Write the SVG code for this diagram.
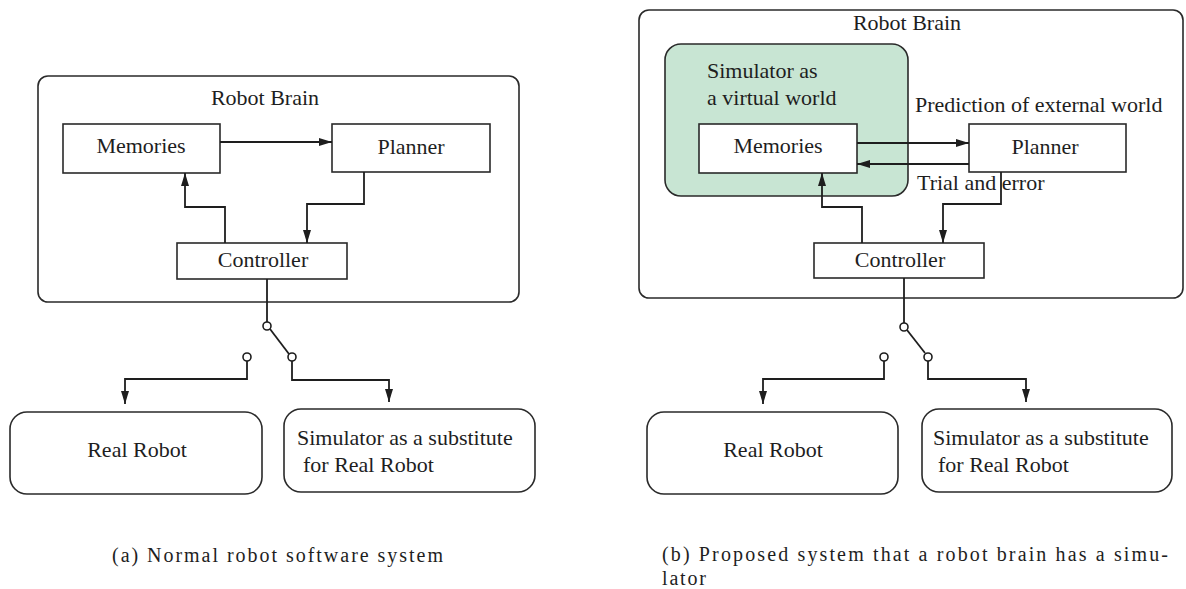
<svg xmlns="http://www.w3.org/2000/svg" width="1186" height="589" viewBox="0 0 1186 589">
<style>
  .t { font-family: 'Liberation Serif', 'DejaVu Serif', serif; font-size: 22px; fill: #1e1e1e; }
  .c { text-anchor: middle; }
  .cap { font-family: 'Liberation Serif', 'DejaVu Serif', serif; font-size: 20px; fill: #1e1e1e; }
  .box { fill: #ffffff; stroke: #2a2a2a; stroke-width: 1.6; }
  .outer { fill: none; stroke: #2a2a2a; stroke-width: 1.6; }
  .green { fill: #c8e5d3; stroke: #2a2a2a; stroke-width: 1.6; }
  .ln { fill: none; stroke: #1e1e1e; stroke-width: 1.8; }
  .arr { fill: none; stroke: #1e1e1e; stroke-width: 1.8; marker-end: url(#ah); }
  .sw { fill: #ffffff; stroke: #1e1e1e; stroke-width: 1.6; }
</style>
<defs>
  <marker id="ah" viewBox="0 0 13 8" refX="13" refY="4" markerWidth="13" markerHeight="8" markerUnits="userSpaceOnUse" orient="auto">
    <path d="M0,0 L13,4 L0,8 z" fill="#1e1e1e"/>
  </marker>
</defs>
<rect width="1186" height="589" fill="#ffffff"/>

<!-- ===== Panel (a) ===== -->
<g id="a-robot-brain">
  <rect class="outer" x="38" y="76" width="481" height="226" rx="10"/>
  <text class="t c" x="265" y="105">Robot Brain</text>
</g>
<g id="a-memories">
  <rect class="box" x="63" y="124" width="157" height="49"/>
  <text class="t c" x="141" y="153">Memories</text>
</g>
<g id="a-planner">
  <rect class="box" x="332" y="124" width="158" height="48"/>
  <text class="t c" x="411" y="154">Planner</text>
</g>
<g id="a-controller">
  <rect class="box" x="177" y="243" width="170" height="36"/>
  <text class="t c" x="263" y="267">Controller</text>
</g>
<g id="a-real-robot">
  <rect class="box" x="10" y="412" width="252" height="82" rx="17"/>
  <text class="t c" x="137" y="457">Real Robot</text>
</g>
<g id="a-simulator">
  <rect class="box" x="284" y="409" width="251" height="83" rx="17"/>
  <text class="t" x="297" y="445">Simulator as a substitute</text>
  <text class="t" x="303" y="472">for Real Robot</text>
</g>
<g id="a-connectors">
  <line class="arr" x1="220" y1="142" x2="332" y2="142"/>
  <polyline class="arr" points="225,243 225,207 185,207 185,173"/>
  <polyline class="arr" points="364,172 364,204 307,204 307,243"/>
  <line class="ln" x1="267" y1="279" x2="267" y2="322"/>
  <line class="ln" x1="270" y1="329" x2="289" y2="354"/>
  <circle class="sw" cx="267" cy="326" r="4"/>
  <circle class="sw" cx="247" cy="357" r="4"/>
  <circle class="sw" cx="292" cy="357" r="4"/>
  <polyline class="arr" points="247,361 247,379 125,379 125,404"/>
  <polyline class="arr" points="292,361 292,380 389,380 389,402"/>
</g>
<text class="cap" x="112" y="562" textLength="331" lengthAdjust="spacing">(a) Normal robot software system</text>

<!-- ===== Panel (b) ===== -->
<g id="b-robot-brain">
  <rect class="outer" x="639" y="10" width="544" height="288" rx="10"/>
  <text class="t c" x="907" y="30">Robot Brain</text>
</g>
<g id="b-simulator-virtual">
  <rect class="green" x="665" y="44" width="243" height="152" rx="16"/>
  <text class="t" x="707" y="78">Simulator as</text>
  <text class="t" x="707" y="105">a virtual world</text>
</g>
<g id="b-memories">
  <rect class="box" x="699" y="124" width="158" height="49"/>
  <text class="t c" x="778" y="153">Memories</text>
</g>
<g id="b-planner">
  <rect class="box" x="969" y="124" width="157" height="48"/>
  <text class="t c" x="1045" y="154">Planner</text>
</g>
<g id="b-controller">
  <rect class="box" x="814" y="243" width="170" height="35"/>
  <text class="t c" x="900" y="267">Controller</text>
</g>
<g id="b-real-robot">
  <rect class="box" x="647" y="412" width="251" height="82" rx="17"/>
  <text class="t c" x="773" y="457">Real Robot</text>
</g>
<g id="b-simulator">
  <rect class="box" x="922" y="409" width="250" height="83" rx="17"/>
  <text class="t" x="933" y="445">Simulator as a substitute</text>
  <text class="t" x="938" y="472">for Real Robot</text>
</g>
<g id="b-labels">
  <text class="t" x="915" y="112">Prediction of external world</text>
  <text class="t" x="917" y="190">Trial and error</text>
</g>
<g id="b-connectors">
  <line class="arr" x1="857" y1="143" x2="969" y2="143"/>
  <line class="arr" x1="969" y1="164" x2="857" y2="164"/>
  <polyline class="arr" points="862,243 862,207 822,207 822,173"/>
  <polyline class="arr" points="1001,172 1001,204 943,204 943,243"/>
  <line class="ln" x1="904" y1="278" x2="904" y2="323"/>
  <line class="ln" x1="907" y1="330" x2="925" y2="353"/>
  <circle class="sw" cx="904" cy="327" r="4"/>
  <circle class="sw" cx="884" cy="357" r="4"/>
  <circle class="sw" cx="928" cy="357" r="4"/>
  <polyline class="arr" points="884,361 884,379 763,379 763,404"/>
  <polyline class="arr" points="928,361 928,379 1026,379 1026,402"/>
</g>
<text class="cap" x="662" y="561" textLength="506" lengthAdjust="spacing">(b) Proposed system that a robot brain has a simu-</text>
<text class="cap" x="662" y="585" textLength="44" lengthAdjust="spacing">lator</text>
</svg>
